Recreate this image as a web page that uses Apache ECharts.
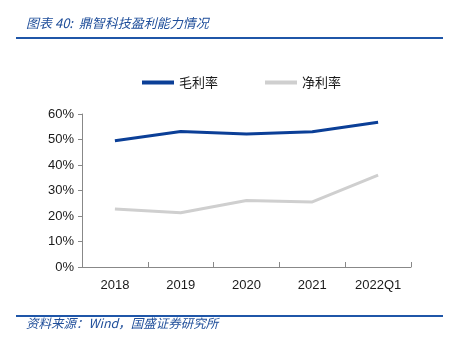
<!DOCTYPE html>
<html><head><meta charset="utf-8">
<script src="https://cdn.jsdelivr.net/npm/echarts@6/dist/echarts.min.js"></script>
<style>html,body{margin:0;padding:0;background:#fff}#c{width:457px;height:355px}</style>
</head><body><div id="c"></div>
<script>
const categories = ['2018','2019','2020','2021','2022Q1'];
const grossMargin = [49.5, 53.1, 52.2, 53.0, 56.8];
const netMargin = [22.7, 21.3, 26.1, 25.5, 36.0];
const yTicks = [0, 10, 20, 30, 40, 50, 60];
const titleText = '图表 40:  鼎智科技盈利能力情况';
const sourceText = '资料来源：Wind，国盛证券研究所';

const chart = echarts.init(document.getElementById('c'));
const labelFont = {fontFamily: 'Liberation Sans, Arial, sans-serif', fontSize: 13, color: '#1a1a1a'};
chart.setOption({
  animation: false,
  graphic: [
    {type:'text', left: 26, top: 17, style:{text: titleText, font: 'italic 13px "Noto Sans CJK SC"', fill:'#1F4E9A'}},
    {type:'rect', shape:{x:16, y:37, width:427, height:2}, style:{fill:'#1F56A8'}},
    {type:'rect', shape:{x:16, y:315, width:427, height:2}, style:{fill:'#1F56A8'}},
    {type:'text', left: 26, top: 317, style:{text: sourceText, font: 'italic 12.5px "Noto Sans CJK SC"', fill:'#1F4E9A'}}
  ],
  legend: {
    top: 71, left: 137, itemGap: 47, itemWidth: 32, itemHeight: 4,
    icon: 'rect',
    textStyle: {fontFamily: 'Noto Sans CJK SC', fontSize: 13, color: '#1a1a1a'},
    data: ['毛利率', '净利率']
  },
  grid: {left: 82, right: 46, top: 114, bottom: 88, containLabel: false},
  xAxis: {
    type: 'category', data: categories, boundaryGap: true,
    axisLine: {lineStyle: {color: '#888', width: 1}},
    axisTick: {show: true, inside: true, length: 5, lineStyle: {color: '#888'}},
    axisLabel: Object.assign({margin: 12}, labelFont)
  },
  yAxis: {
    type: 'value', min: yTicks[0], max: yTicks[yTicks.length-1], interval: 10,
    axisLine: {show: true, lineStyle: {color: '#888', width: 1}},
    axisTick: {show: true, length: 4, lineStyle: {color: '#888'}},
    splitLine: {show: false},
    axisLabel: Object.assign({margin: 8, formatter: v => v + '%'}, labelFont)
  },
  series: [
    {name: '毛利率', type: 'line', data: grossMargin, symbol: 'none', lineStyle: {width: 3, color: '#0B3F97'}, itemStyle: {color: '#0B3F97'}},
    {name: '净利率', type: 'line', data: netMargin, symbol: 'none', lineStyle: {width: 3, color: '#CFCFCF'}, itemStyle: {color: '#CFCFCF'}}
  ]
});
</script></body></html>
